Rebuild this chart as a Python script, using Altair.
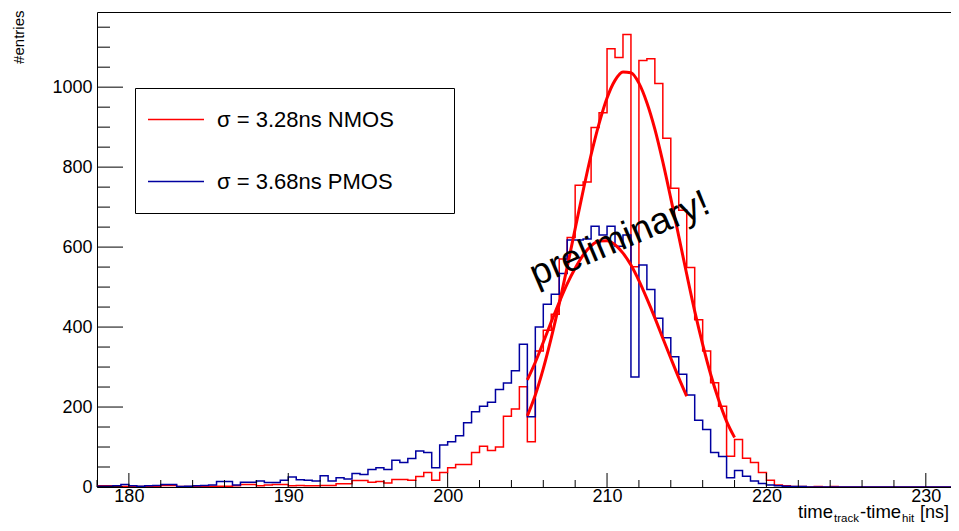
import altair as alt
import pandas as pd

FONT = "Liberation Sans"
RED = "#ff0000"
BLUE = "#0000a0"

# histogram binning (ns)
BIN_START = 178.0
BIN_WIDTH = 0.5

# entries per 0.5 ns bin, from 178.0 ns up to 231.5 ns
NMOS_COUNTS = [
    3, 3, 2, 1, 1, 1, 1, 2, 4, 4,
    1, 1, 1, 2, 2, 2, 2, 3, 6, 6,
    3, 5, 6, 6, 3, 4, 3, 3, 4, 4,
    8, 8, 16, 16, 12, 14, 10, 19, 19, 17,
    26, 36, 17, 36, 48, 56, 56, 86, 102, 91,
    100, 177, 195, 251, 113, 340, 392, 432, 570, 624,
    755, 763, 899, 936, 1096, 1074, 1132, 551, 1067, 1071,
    1009, 872, 747, 692, 549, 418, 340, 261, 202, 77,
    119, 72, 61, 36, 17, 5, 3, 1, 1, 0,
    1, 0, 1, 0, 0, 0, 0, 0, 0, 0,
    0, 0, 0, 0, 0, 0, 0, 0,
]
PMOS_COUNTS = [
    2, 2, 3, 6, 3, 2, 3, 4, 6, 6,
    1, 2, 3, 4, 5, 14, 14, 5, 12, 12,
    15, 11, 11, 17, 25, 18, 17, 15, 28, 15,
    23, 20, 34, 31, 44, 48, 44, 67, 61, 71,
    90, 86, 48, 105, 113, 128, 161, 188, 202, 212,
    244, 260, 291, 357, 176, 400, 457, 482, 534, 618,
    618, 620, 652, 630, 652, 602, 630, 275, 555, 494,
    422, 373, 326, 282, 230, 167, 144, 86, 76, 23,
    41, 27, 15, 9, 5, 3, 2, 1, 1, 0,
    0, 0, 0, 0, 0, 0, 0, 0, 0, 0,
    0, 0, 0, 0, 0, 0, 0, 0,
]

# fitted curves
FIT_NMOS_X = [205.0, 205.5, 206.0, 206.5, 207.0, 207.5, 208.0, 208.5, 209.0, 209.5,
              210.0, 210.5, 211.0, 211.5, 212.0, 212.5, 213.0, 213.5, 214.0, 214.5,
              215.0, 215.5, 216.0, 216.5, 217.0, 217.5, 218.0]
FIT_NMOS_Y = [178, 230, 296, 373, 458, 550, 646, 741, 831, 909,
              973, 1017, 1038, 1036, 1010, 961, 895, 813, 722, 627,
              532, 440, 357, 282, 218, 164, 124]
FIT_PMOS_X = [205.0, 205.5, 206.0, 206.5, 207.0, 207.5, 208.0, 208.5, 209.0, 209.5,
              210.0, 210.5, 211.0, 211.5, 212.0, 212.5, 213.0, 213.5, 214.0, 214.5,
              215.0]
FIT_PMOS_Y = [268, 312, 362, 413, 462, 508, 547, 580, 603, 615,
              616, 606, 585, 555, 516, 471, 423, 372, 322, 273,
              227]

SERIES = ["NMOS", "PMOS"]
LEGEND_LABELS = {"NMOS": "σ = 3.28ns NMOS", "PMOS": "σ = 3.68ns PMOS"}

X_MAJOR = [180, 190, 200, 210, 220, 230]
X_MINOR = [178, 182, 184, 186, 188, 192, 194, 196, 198, 202, 204, 206, 208,
           212, 214, 216, 218, 222, 224, 226, 228]
Y_MAJOR = [0, 200, 400, 600, 800, 1000]
Y_MINOR = [50, 100, 150, 250, 300, 350, 450, 500, 550, 650, 700, 750,
           850, 900, 950, 1050, 1100, 1150]

ANNOT_TEXT = "preliminary!"
ANNOT_X = [210.8]
ANNOT_Y = [620]

W, H = 854, 475
X_DOMAIN = [178, 231.58]
Y_DOMAIN = [0, 1188]

# ---- build tables ----
rows = []
for name, counts in (("NMOS", NMOS_COUNTS), ("PMOS", PMOS_COUNTS)):
    for i, c in enumerate(counts):
        rows.append({"series": name, "t": BIN_START + i * BIN_WIDTH, "n": c})
    rows.append({"series": name, "t": BIN_START + len(counts) * BIN_WIDTH, "n": counts[-1]})
hist_df = pd.DataFrame(rows)

fit_rows = []
for name, xs_, ys_ in (("NMOS", FIT_NMOS_X, FIT_NMOS_Y), ("PMOS", FIT_PMOS_X, FIT_PMOS_Y)):
    for a, b in zip(xs_, ys_):
        fit_rows.append({"fit": name, "t": a, "n": b})
fit_df = pd.DataFrame(fit_rows)

xs = alt.Scale(domain=X_DOMAIN, nice=False, zero=False)
ys = alt.Scale(domain=Y_DOMAIN, nice=False, zero=False)

X_AX = alt.Axis(values=X_MAJOR, title=None, ticks=False, tickSize=0, domain=False, grid=False,
                labelFont=FONT, labelFontSize=18, labelColor="black", labelPadding=0,
                labelFlush=False, format="d")
Y_AX = alt.Axis(values=Y_MAJOR, title="#entries", ticks=False, tickSize=0, domain=False, grid=False,
                labelFont=FONT, labelFontSize=18, labelColor="black", labelPadding=5,
                labelFlush=False, format="d",
                titleFont=FONT, titleFontSize=15, titleFontWeight="normal", titleColor="black",
                titleAngle=270, titleAlign="right", titleBaseline="bottom", titleX=-71, titleY=-2)

pad = "\u2800" * 3
label_expr = ("datum.value == 'NMOS' ? '" + LEGEND_LABELS["NMOS"] + pad +
              "' : '" + LEGEND_LABELS["PMOS"] + pad + "'")

hist = alt.Chart(hist_df).mark_line(interpolate="step-after", strokeWidth=1.5, clip=True).encode(
    x=alt.X("t:Q", scale=xs, axis=X_AX),
    y=alt.Y("n:Q", scale=ys, axis=Y_AX),
    color=alt.Color("series:N", scale=alt.Scale(domain=SERIES, range=[RED, BLUE]),
                    legend=alt.Legend(
                        orient="none", legendX=38, legendY=76, title=None,
                        symbolType="stroke", symbolSize=3136, symbolStrokeWidth=1.5,
                        clipHeight=39, rowPadding=23, padding=12, labelOffset=12,
                        labelFont=FONT, labelFontSize=22, labelColor="black",
                        labelLimit=600, labelExpr=label_expr,
                        strokeColor="black", fillColor="white")),
    detail="series:N",
)

fits = alt.Chart(fit_df).mark_line(interpolate="monotone", strokeWidth=3, color=RED, clip=True).encode(
    x=alt.X("t:Q", scale=xs, axis=X_AX),
    y=alt.Y("n:Q", scale=ys, axis=Y_AX),
    detail="fit:N",
)

annot = alt.Chart(pd.DataFrame({"t": ANNOT_X, "n": ANNOT_Y, "txt": [ANNOT_TEXT]})).mark_text(
    font=FONT, fontSize=37, angle=337, align="center", baseline="middle", color="black"
).encode(
    x=alt.X("t:Q", scale=xs, axis=X_AX),
    y=alt.Y("n:Q", scale=ys, axis=Y_AX),
    text="txt:N",
)

xmaj = alt.Chart(pd.DataFrame({"v": X_MAJOR})).mark_rule(color="black", strokeWidth=1).encode(
    x=alt.X("v:Q", scale=xs, axis=X_AX), y=alt.value(H), y2=alt.value(H - 14))
xmin = alt.Chart(pd.DataFrame({"v": X_MINOR})).mark_rule(color="black", strokeWidth=1).encode(
    x=alt.X("v:Q", scale=xs, axis=X_AX), y=alt.value(H), y2=alt.value(H - 7))
ymaj = alt.Chart(pd.DataFrame({"v": Y_MAJOR})).mark_rule(color="black", strokeWidth=1).encode(
    y=alt.Y("v:Q", scale=ys, axis=Y_AX), x=alt.value(0), x2=alt.value(26))
ymin = alt.Chart(pd.DataFrame({"v": Y_MINOR})).mark_rule(color="black", strokeWidth=1).encode(
    y=alt.Y("v:Q", scale=ys, axis=Y_AX), x=alt.value(0), x2=alt.value(13))


def piece(txt, px, py, size):
    return alt.Chart(pd.DataFrame({"k": [0]})).mark_text(
        text=txt, font=FONT, fontSize=size, align="left", baseline="alphabetic", color="black"
    ).encode(x=alt.value(px), y=alt.value(py))


xtitle = [
    piece("time", 701, 506, 18.5),
    piece("track", 737, 509.5, 11.5),
    piece("-time", 763, 506, 18.5),
    piece("hit", 805, 509.5, 11.5),
    piece("[ns]", 823, 506, 18),
]

chart = alt.layer(hist, fits, annot, xmaj, xmin, ymaj, ymin, *xtitle).properties(
    width=W, height=H,
    autosize=alt.AutoSizeParams(type="none"),
    padding={"left": 89, "top": 4, "right": 0, "bottom": 36},
).configure_view(stroke="black", strokeWidth=1)

chart.save("out.html", embed_options={"renderer": "svg", "actions": False})
